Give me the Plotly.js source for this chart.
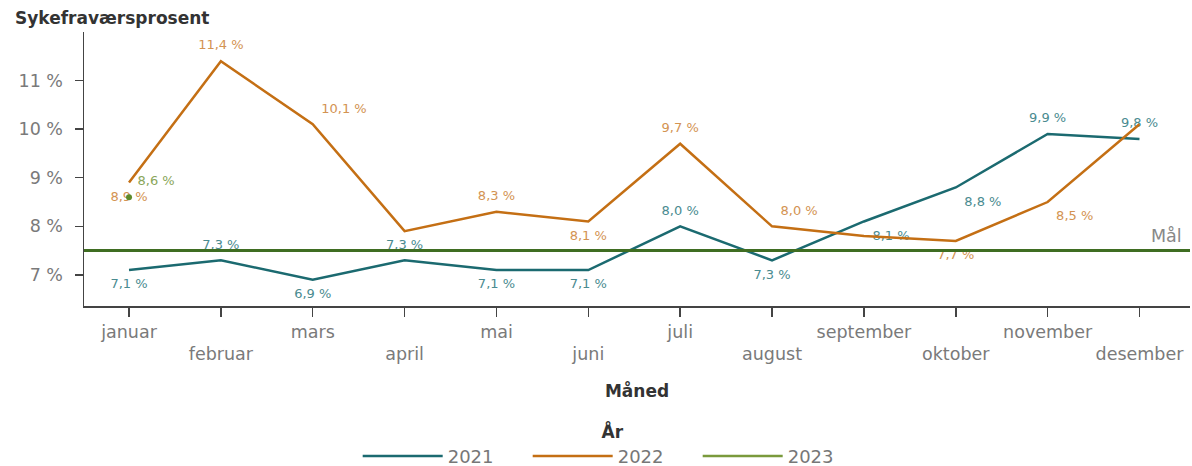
<!DOCTYPE html>
<html>
<head>
<meta charset="utf-8">
<script src="https://cdn.plot.ly/plotly-3.0.1.min.js"></script>
<style>
  html, body { margin: 0; padding: 0; background: #ffffff; }
  #chart { width: 1192px; height: 466px; }
</style>
</head>
<body>
<div id="chart"></div>
<script>
// ---- data ----
const months = ['januar', 'februar', 'mars', 'april', 'mai', 'juni',
                'juli', 'august', 'september', 'oktober', 'november', 'desember'];
const values2021 = [7.1, 7.3, 6.9, 7.3, 7.1, 7.1, 8.0, 7.3, 8.1, 8.8, 9.9, 9.8];
const values2022 = [8.9, 11.4, 10.1, 7.9, 8.3, 8.1, 9.7, 8.0, 7.8, 7.7, 8.5, 10.1];
const values2023 = [8.6];
const goalValue = 7.5;
const yTickValues = [7, 8, 9, 10, 11];
const yTickLabels = ['7 %', '8 %', '9 %', '10 %', '11 %'];

// which data labels are visible (others hidden by overlap in the original)
const show2021 = [true, true, true, true, true, true, true, true, true, true, true, true];
const show2022 = [true, true, true, false, true, true, true, true, false, true, true, false];

// ---- styling ----
const FONT = 'DejaVu Sans, Noto Sans, sans-serif';
const C2021 = '#1b6a70';
const C2022 = '#c46f14';
const C2023 = '#7a9a3c';
const CGOAL = '#3f6d22';
const pos2021 = ['bottom center', 'top center', 'bottom center', 'top center', 'bottom center', 'bottom center',
                 'top center', 'bottom center', 'bottom right', 'bottom right', 'top center', 'top center'];
const pos2022 = ['bottom center', 'top center', 'top right', 'top center', 'top center', 'bottom center',
                 'top center', 'top right', 'top center', 'bottom center', 'bottom right', 'top center'];

function fmt(v) { return v.toFixed(1).replace('.', ',') + ' %'; }
function labels(vals, flags) { return vals.map((v, i) => flags[i] ? fmt(v) : ''); }

const xIdx = months.map((m, i) => i);
const tickText = months.map((m, i) => (i % 2 === 1 ? '<br>' + m : m));
const LABEL_SIZE = 13;
// transparent markers only widen the gap between a point and its data label
const ghostMarker = { size: 12, color: 'rgba(0,0,0,0)', line: { width: 0 } };

const traces = [
  {
    name: '2021', x: xIdx, y: values2021, type: 'scatter', mode: 'lines+markers+text',
    line: { color: C2021, width: 2.5 }, marker: ghostMarker,
    text: labels(values2021, show2021), textposition: pos2021,
    textfont: { family: FONT, size: LABEL_SIZE, color: '#4a8b90' },
    cliponaxis: false, hoverinfo: 'skip'
  },
  {
    name: '2022', x: xIdx, y: values2022, type: 'scatter', mode: 'lines+markers+text',
    line: { color: C2022, width: 2.5 }, marker: ghostMarker,
    text: labels(values2022, show2022), textposition: pos2022,
    textfont: { family: FONT, size: LABEL_SIZE, color: '#d39352' },
    cliponaxis: false, hoverinfo: 'skip'
  },
  {
    name: '2023', x: xIdx.slice(0, values2023.length), y: values2023, type: 'scatter', mode: 'lines+markers+text',
    legendgroup: 'y2023',
    line: { color: C2023, width: 2.5 }, marker: ghostMarker,
    text: values2023.map(fmt), textposition: 'top right',
    textfont: { family: FONT, size: LABEL_SIZE, color: '#8aa65a' },
    cliponaxis: false, hoverinfo: 'skip'
  },
  {
    name: '2023', x: xIdx.slice(0, values2023.length), y: values2023, type: 'scatter', mode: 'markers',
    legendgroup: 'y2023', showlegend: false,
    marker: { color: '#5e8a2a', size: 6 },
    cliponaxis: false, hoverinfo: 'skip'
  }
];

const layout = {
  width: 1192, height: 466,
  margin: { l: 84, r: 2, t: 32, b: 160 },
  paper_bgcolor: '#ffffff', plot_bgcolor: '#ffffff',
  font: { family: FONT, color: '#777777' },
  showlegend: true,
  xaxis: {
    range: [-0.49, 11.55], automargin: false,
    tickmode: 'array', tickvals: xIdx, ticktext: tickText,
    showgrid: false, zeroline: false,
    showline: true, linecolor: '#444444', linewidth: 1.5,
    ticks: 'outside', ticklen: 9, tickcolor: '#444444', tickwidth: 1.5,
    tickfont: { family: FONT, size: 17.5, color: '#7a7a7a' },
    title: { text: '<b>Måned</b>', font: { family: FONT, size: 17, color: '#333333' }, standoff: 22 },
    fixedrange: true
  },
  yaxis: {
    range: [6.36, 12.0], automargin: false,
    tickmode: 'array', tickvals: yTickValues, ticktext: yTickLabels,
    showgrid: false, zeroline: false,
    showline: true, linecolor: '#444444', linewidth: 1.5,
    ticks: 'outside', ticklen: 8, tickcolor: '#444444', tickwidth: 1.5,
    ticklabelstandoff: 8,
    tickfont: { family: FONT, size: 17.5, color: '#7a7a7a' },
    fixedrange: true
  },
  shapes: [
    { type: 'line', xref: 'paper', x0: 0, x1: 1, yref: 'y', y0: goalValue, y1: goalValue,
      line: { color: CGOAL, width: 3 } }
  ],
  annotations: [
    { text: '<b>Sykefraværsprosent</b>', xref: 'paper', yref: 'paper', x: -0.0645, y: 1.0,
      xanchor: 'left', yanchor: 'bottom', yshift: 2, showarrow: false,
      font: { family: FONT, size: 17, color: '#333333' } },
    { text: 'Mål', xref: 'paper', yref: 'y', x: 0.995, y: goalValue, xanchor: 'right', yanchor: 'bottom',
      yshift: 3, showarrow: false, font: { family: FONT, size: 17.5, color: '#888888' } }
  ],
  legend: {
    orientation: 'h', xref: 'container', x: 0.514, xanchor: 'center',
    yref: 'container', y: 0.108, yanchor: 'top',
    itemwidth: 80, entrywidth: 75, entrywidthmode: 'pixels',
    title: { text: '<b>År</b>', side: 'top center', font: { family: FONT, size: 17, color: '#333333' } },
    font: { family: FONT, size: 18, color: '#777777' },
    traceorder: 'normal', bgcolor: 'rgba(0,0,0,0)'
  }
};

Plotly.newPlot('chart', traces, layout, { displayModeBar: false, staticPlot: true });
</script>
</body>
</html>
